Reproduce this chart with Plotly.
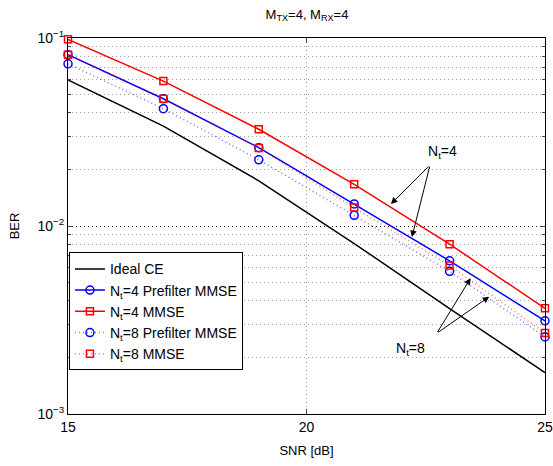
import plotly.graph_objects as go

snr = [15, 17, 19, 21, 23, 25]
ber_ideal = [0.0598, 0.0340, 0.0174, 0.00807, 0.00364, 0.00166]
ber_nt4_pre = [0.0815, 0.0475, 0.0261, 0.0131, 0.00653, 0.00313]
ber_nt4_mmse = [0.0984, 0.0590, 0.0327, 0.01667, 0.00800, 0.00365]
ber_nt8_pre = [0.0729, 0.0421, 0.0225, 0.0114, 0.00574, 0.00257]
ber_nt8_mmse = [0.0815, 0.0475, 0.0260, 0.01253, 0.00616, 0.00270]

names = ["Ideal CE", "N<sub>t</sub>=4 Prefilter MMSE", "N<sub>t</sub>=4 MMSE",
         "N<sub>t</sub>=8 Prefilter MMSE", "N<sub>t</sub>=8 MMSE"]

FONT = "Liberation Sans, Arial, sans-serif"
DOT = "1px,3px"

fig = go.Figure()
fig.add_trace(go.Scatter(x=snr, y=ber_ideal, mode="lines", name=names[0],
                         line=dict(color="black", width=1.5)))
fig.add_trace(go.Scatter(x=snr, y=ber_nt4_pre, mode="lines+markers", name=names[1],
                         line=dict(color="blue", width=1.5), cliponaxis=False,
                         marker=dict(symbol="circle-open", size=8, color="blue", line=dict(width=1.5))))
fig.add_trace(go.Scatter(x=snr, y=ber_nt4_mmse, mode="lines+markers", name=names[2],
                         line=dict(color="red", width=1.5), cliponaxis=False,
                         marker=dict(symbol="square-open", size=7, color="red", line=dict(width=1.5))))
fig.add_trace(go.Scatter(x=snr, y=ber_nt8_pre, mode="lines+markers", name=names[3],
                         line=dict(color="rgba(0,0,255,0.55)", width=1.5, dash=DOT), cliponaxis=False,
                         marker=dict(symbol="circle-open", size=8, color="blue", line=dict(width=1.5))))
fig.add_trace(go.Scatter(x=snr, y=ber_nt8_mmse, mode="lines+markers", name=names[4],
                         line=dict(color="rgba(255,0,0,0.55)", width=1.5, dash=DOT), cliponaxis=False,
                         marker=dict(symbol="square-open", size=7, color="red", line=dict(width=1.5))))

minor_vals = [m * 10 ** e for e in (-3, -2) for m in range(2, 10)]

fig.update_xaxes(range=[15, 25], tickvals=[15, 20, 25], ticks="inside", ticklen=5,
                 showline=True, linecolor="black", linewidth=1, mirror="ticks",
                 showgrid=True, gridcolor="#a0a0a0", griddash="1px,3px", gridwidth=1,
                 zeroline=False, tickfont=dict(size=14, color="black"), automargin=False,
                 ticklabeloverflow="allow",
                 title=dict(text="SNR [dB]", font=dict(size=13, color="black"), standoff=12))
fig.update_yaxes(type="log", range=[-3, -1], tickvals=[0.001, 0.01, 0.1],
                 ticktext=["10<sup>−3</sup>", "10<sup>−2</sup>", "10<sup>−1</sup>"],
                 ticks="inside", ticklen=5, showline=True, linecolor="black", linewidth=1,
                 mirror="ticks", showgrid=True, gridcolor="#202020", griddash="1px,3px", gridwidth=1,
                 tickfont=dict(size=14, color="black"), automargin=False,
                 ticklabeloverflow="allow",
                 minor=dict(tickmode="array", tickvals=minor_vals, ticks="inside", ticklen=3,
                            showgrid=True, gridcolor="#a0a0a0", griddash="1px,3px", gridwidth=1),
                 title=dict(text="BER", font=dict(size=13, color="black"), standoff=14))

def arrow(hx, hy, tx, ty):
    fig.add_annotation(x=hx, y=hy, ax=tx, ay=ty, xref="x", yref="y", axref="x", ayref="y",
                       text="", showarrow=True, arrowhead=2, arrowsize=1.3, arrowwidth=1,
                       arrowcolor="black")

arrow(21.77, -1.883, 22.59, -1.676)
arrow(22.21, -2.059, 22.59, -1.676)
arrow(23.44, -2.278, 22.73, -2.571)
arrow(23.83, -2.376, 22.73, -2.571)
fig.add_annotation(x=22.86, y=-1.606, xref="x", yref="y", text="N<sub>t</sub>=4",
                   showarrow=False, font=dict(size=14, color="black"))
fig.add_annotation(x=22.18, y=-2.654, xref="x", yref="y", text="N<sub>t</sub>=8",
                   showarrow=False, font=dict(size=14, color="black"))

W, H = 553, 466
fig.update_layout(
    width=W, height=H,
    margin=dict(l=68, r=8, t=38, b=52),
    paper_bgcolor="white", plot_bgcolor="white",
    font=dict(family=FONT, size=12, color="black"),
    title=dict(text="M<sub>TX</sub>=4, M<sub>RX</sub>=4", x=307 / W, xanchor="center",
               xref="container", y=1 - 14 / H, yanchor="middle", yref="container",
               font=dict(size=13, color="black"), automargin=False),
    legend=dict(x=0.002, y=0.43, xanchor="left", yanchor="top", bgcolor="white",
                bordercolor="black", borderwidth=1, font=dict(size=14, color="black"),
                tracegroupgap=0, itemwidth=30),
    showlegend=True,
)

# remove the browser's default 8px body margin so the figure fills the window
fig.write_html("out.html", config={"displayModeBar": False},
               post_script="document.body.style.margin='0';document.body.style.overflow='hidden';")
